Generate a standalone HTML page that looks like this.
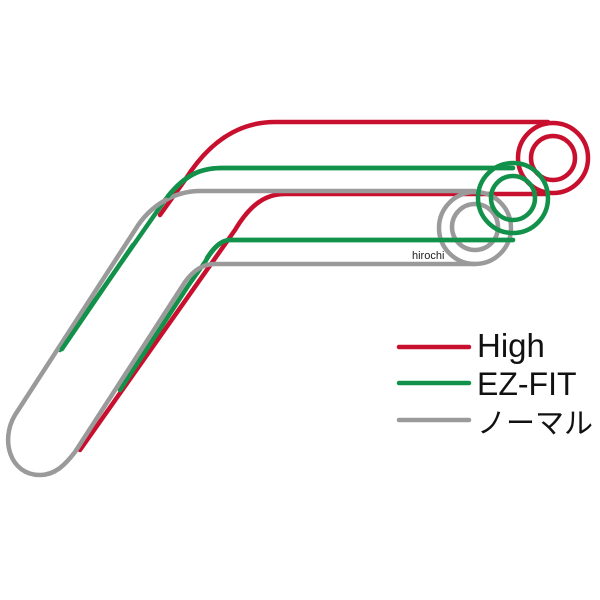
<!DOCTYPE html>
<html><head><style>html,body{margin:0;padding:0;background:#fff}svg{display:block}</style></head>
<body>
<svg width="600" height="600" viewBox="0 0 600 600" xmlns="http://www.w3.org/2000/svg">
<g fill="none" stroke-linecap="round" stroke-linejoin="round">
<!-- red -->
<g stroke="#c8102e" stroke-width="4.5">
<path d="M548 122 L275 122 C240 122 210 140 185 180 L160 215"/>
<path d="M548 194 L285 194 C265 194 250 205 235 230 L80 450"/>
<circle cx="553" cy="158" r="35"/>
<circle cx="553" cy="158" r="22"/>
</g>
<!-- green lines under grey -->
<g stroke="#12914a" stroke-width="4.5">
<path d="M513 168 L222 168 C200 168 185 175 165 200 L137 240 L60 350"/>
<path d="M513 240 L230 240 C220 240 212 250 205 262 L188 286 L120 390"/>
</g>
<!-- grey -->
<g stroke="#9a9a9a" stroke-width="4.5">
<path d="M475 191 L200 191 C175 191 150 205 135 230 L15 415 C0 440 10 475 40 475 C55 475 65 465 75 452 L185 282 C195 268 205 264 215 264 L475 264"/>
<circle cx="475" cy="228" r="36"/>
<circle cx="475" cy="227" r="23"/>
</g>
<!-- green visible segments on top -->
<g stroke="#12914a" stroke-width="4.5">
<path d="M513 168 L222 168 C200 168 185 175 168 196"/>
<path d="M133 245 L62 349"/>
<path d="M513 240 L230 240 C220 240 212 250 207 258"/>
<circle cx="513" cy="198" r="35"/>
<circle cx="513" cy="198" r="22"/>
</g>
<!-- legend -->
<line x1="399" y1="347" x2="469" y2="347" stroke="#c8102e" stroke-width="4.5"/>
<line x1="399" y1="383" x2="469" y2="383" stroke="#12914a" stroke-width="4.5"/>
<line x1="399" y1="420" x2="469" y2="420" stroke="#9a9a9a" stroke-width="4.5"/>
</g>
<g font-family="Liberation Sans, 'Noto Sans CJK JP', sans-serif" fill="#111">
<text x="477" y="357" font-size="33">High</text>
<text x="477" y="395" font-size="32">EZ-FIT</text>
<text x="477" y="433" font-size="29" font-family="'Noto Sans CJK JP', sans-serif">ノーマル</text>
<text x="412" y="259" font-size="11" fill="#222">hirochi</text>
</g>
</svg>
</body></html>
